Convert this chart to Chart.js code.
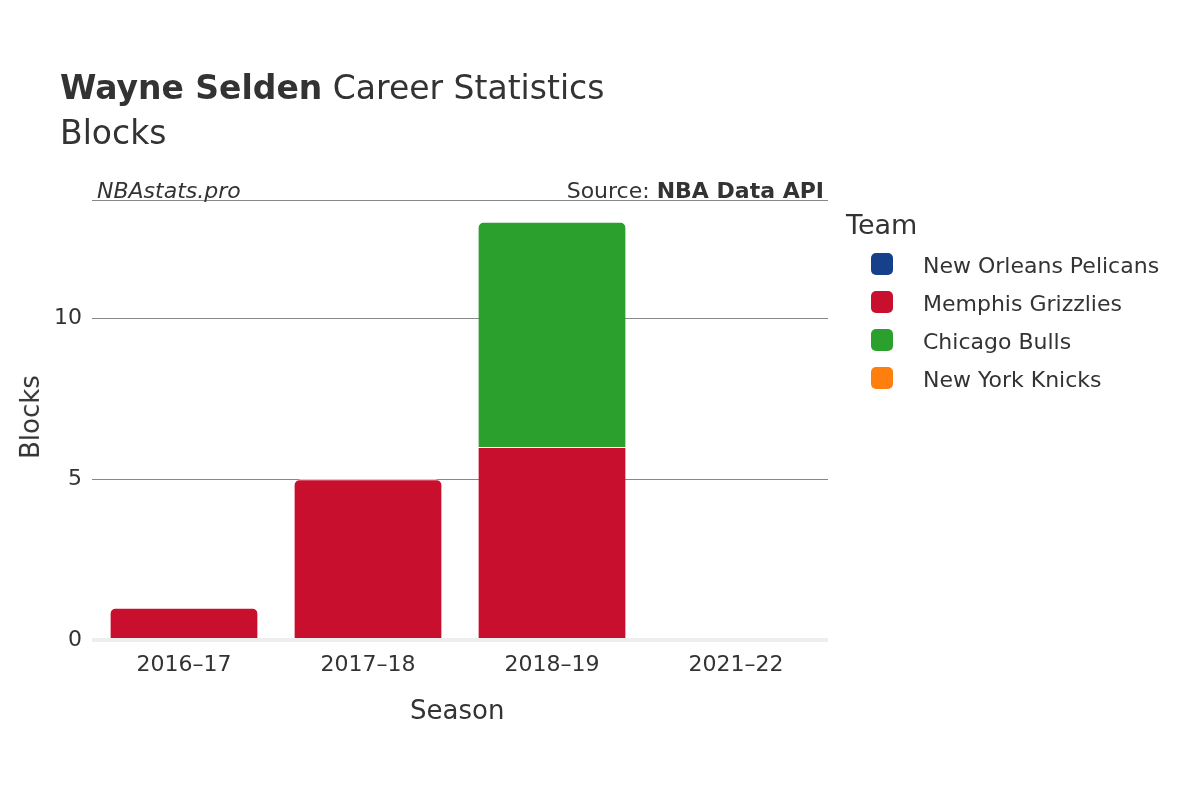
<!DOCTYPE html>
<html><head><meta charset="utf-8">
<script src="https://cdn.jsdelivr.net/npm/chart.js@4"></script>
<style>
body{margin:0;width:1200px;height:800px;background:#fff;font-family:"DejaVu Sans",sans-serif;color:#333;position:relative;overflow:hidden}
#c{position:absolute;left:0;top:0}
.t{position:absolute;white-space:nowrap}
.lg{position:absolute;left:871px;font-size:22px;color:#333}
.lg span{display:inline-block;width:22px;height:22px;border-radius:5px;vertical-align:middle;margin-right:30px;position:relative;top:-3px}
</style></head><body>
<canvas id="c" width="1200" height="800"></canvas>
<div class="t" style="left:60px;top:68px;font-size:33px"><b>Wayne Selden</b> Career Statistics</div>
<div class="t" style="left:60px;top:113px;font-size:33px">Blocks</div>
<div class="t" style="left:97px;top:178px;font-size:22px;font-style:italic">NBAstats.pro</div>
<div class="t" style="right:376px;top:178px;font-size:22px">Source: <b>NBA Data API</b></div>
<div class="t" style="left:410px;top:695px;font-size:26px">Season</div>
<div class="t" style="left:-12px;top:402px;font-size:26px;transform:rotate(-90deg)">Blocks</div>
<div class="t" style="left:846px;top:209px;font-size:27px">Team</div>
<div id="legend"></div>
<script>
const seasons=["2016–17","2017–18","2018–19","2021–22"];
const teams=["New Orleans Pelicans","Memphis Grizzlies","Chicago Bulls","New York Knicks"];
const colors=["#17408B","#C8102E","#2CA02C","#FF7F0E"];
const pelicans=[null,null,null,0];
const grizzlies=[1,5,6,null];
const bulls=[null,null,7,null];
const knicks=[null,null,null,0];
const series=[pelicans,grizzlies,bulls,knicks];
const lg=document.getElementById('legend');
teams.forEach((t,i)=>{const d=document.createElement('div');d.className='lg';d.style.top=(253+i*38)+'px';d.innerHTML='<span style="background:'+colors[i]+'"></span>'+t;lg.appendChild(d);});
new Chart(document.getElementById('c'),{type:'bar',
data:{labels:seasons,datasets:series.map((s,i)=>({label:teams[i],data:s,backgroundColor:colors[i],
 borderColor:'#fff',borderWidth:{top:1,left:0,right:0,bottom:0},borderSkipped:'bottom',
 borderRadius:(ctx)=>{const j=ctx.dataIndex;for(let k=i+1;k<series.length;k++){if(series[k][j])return 0;}return 6;},
 categoryPercentage:0.8,barPercentage:1}))},
options:{responsive:false,animation:false,
 layout:{padding:{left:0,right:372,top:200,bottom:0}},
 plugins:{legend:{display:false},tooltip:{enabled:false}},
 scales:{
  x:{stacked:true,grid:{display:false},border:{display:false},
     ticks:{color:'#333',font:{size:22,family:'DejaVu Sans'},padding:4},
     afterFit:s=>{s.height=160;}},
  y:{stacked:true,min:0,max:13.68,border:{display:false},
     grid:{color:c=>c.tick.value===0?'#eeeeee':'#888',lineWidth:c=>c.tick.value===0?4:1,drawTicks:false},
     ticks:{stepSize:5,color:'#333',font:{size:22,family:'DejaVu Sans'},padding:10,
       callback:v=>v%5===0?v:''},
     afterFit:s=>{s.width=92;}}
 }}});
</script></body></html>
